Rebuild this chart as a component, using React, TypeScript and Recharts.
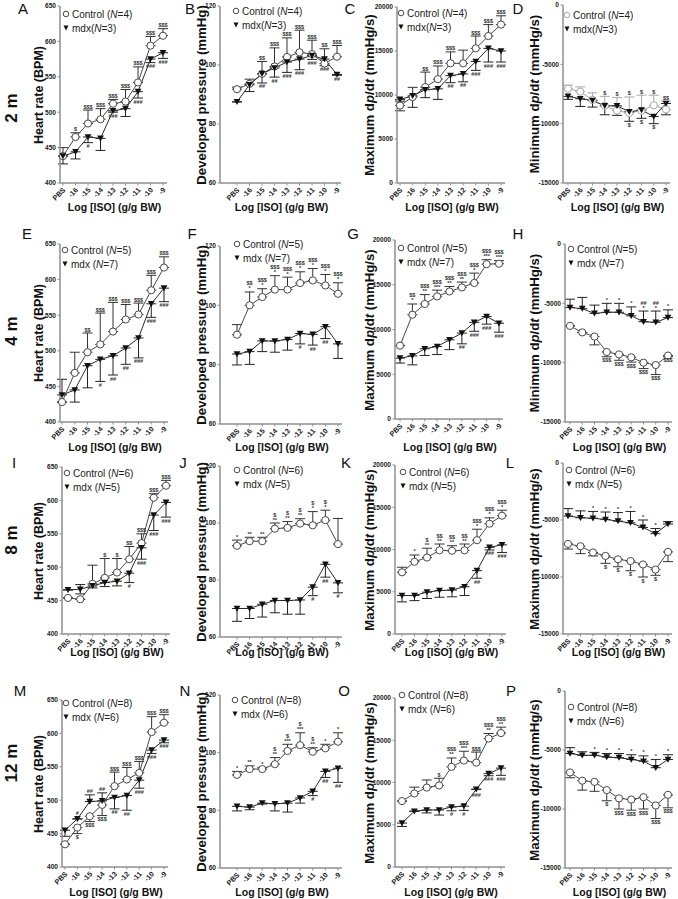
import React from 'react';
import { LineChart, Line, XAxis, YAxis, ErrorBar, LabelList } from 'recharts';

const DOSES = ['PBS', '-16', '-15', '-14', '-13', '-12', '-11', '-10', '-9'];

// ---- 2 months ----
const A_CTRL = [438, 465, 484, 490, 512, 515, 542, 594, 608];
const A_CTRL_SEM = [12, 6, 19, 15, 6, 17, 22, 13, 10];
const A_MDX = [438, 444, 465, 463, 502, 505, 529, 575, 584];
const A_MDX_SEM = [11, 10, 8, 17, 2, 11, 9, 5, 8];
const A_CTRL_SIG = ['', '$', '$$$', '$$$', '$$$', '$$$', '$$$', '$$$', '$$$'];
const A_MDX_SIG = ['', '', '#', '', '###', '', '###', '###', '###'];

const B_CTRL = [91.8, 93.6, 97, 99.5, 102.7, 104.3, 103.7, 100.5, 102.8];
const B_CTRL_SEM = [0.7, 1.6, 4.2, 6.3, 6.5, 7.5, 4.7, 5, 3.8];
const B_MDX = [87.5, 93.3, 97, 99, 101, 102, 103.2, 102, 96.8];
const B_MDX_SEM = [0, 2.3, 3.1, 3.1, 3.5, 3.6, 1.3, 2.2, 0.3];
const B_CTRL_SIG = ['', '', '$$', '$$$', '$$$', '$$$', '$$$', '$$', '$$$'];
const B_MDX_SIG = ['', '', '##', '##', '###', '###', '###', '###', '##'];

const C_CTRL = [8800, 9770, 10900, 11800, 13600, 13600, 15300, 16700, 18000];
const C_CTRL_SEM = [0, 1100, 1700, 1500, 1300, 1500, 1400, 1300, 1000];
const C_CTRL_SEM_LOW = [600, 0, 0, 0, 0, 0, 0, 0, 0];
const C_MDX = [9500, 9900, 10600, 10700, 12200, 12400, 13800, 15300, 15000];
const C_MDX_SEM = [200, 1300, 900, 1200, 800, 900, 1000, 1550, 1250];
const C_CTRL_SIG = ['', '', '$$', '$$$', '$$$', '', '$$$', '$$$', '$$$'];
const C_MDX_SIG = ['', '', '', '', '##', '##', '###', '###', '###'];

const D_CTRL = [-7050, -7300, -8000, -8500, -8900, -9100, -8900, -8450, -8800];
const D_CTRL_SEM = [300, 400, 600, 800, 1100, 1350, 1300, 850, 700];
const D_MDX = [-7700, -7900, -8050, -8500, -8500, -9000, -8850, -9400, -8300];
const D_MDX_SEM = [250, 650, 550, 750, 800, 800, 700, 600, 950];
const D_CTRL_SIG = ['', '', '', '$', '$', '$', '$', '$', '$$'];
const D_MDX_SIG = ['', '', '', '', '', '$', '$', '$', ''];

// ---- 4 months ----
const E_CTRL = [428, 469, 498, 509, 527, 544, 551, 585, 617];
const E_CTRL_SEM = [0, 29, 27, 44, 41, 21, 16, 21, 15];
const E_MDX = [438, 445, 479, 488, 493, 504, 518, 566, 588];
const E_MDX_SEM_UP = [22, 0, 0, 0, 0, 0, 0, 0, 0];
const E_MDX_SEM = [0, 17, 31, 31, 27, 23, 28, 19, 19];
const E_CTRL_SIG = ['', '', '$$', '$$$', '$$$', '$$$', '$$$', '$$$', '$$$'];
const E_MDX_SIG = ['', '', '', '#', '##', '##', '###', '###', '###'];

const F_CTRL = [90.1, 100, 102.8, 105.3, 105.3, 107.5, 108.4, 106.7, 103.9];
const F_CTRL_SEM = [3.4, 4.5, 2.8, 4.7, 4.2, 3.8, 4, 3.7, 3.7];
const F_MDX = [83.6, 84.4, 88, 88, 88.5, 90.5, 90.2, 92.8, 87];
const F_MDX_SEM = [3.7, 4.3, 3.6, 3.8, 3.6, 3.5, 3.6, 4, 4.9];
const F_CTRL_SIG = ['', '$$\n*', '$$$\n*', '$$$\n*', '$$$\n*', '$$$\n*', '$$$\n*', '$$$\n*', '$$$\n*'];
const F_MDX_SIG = ['', '', '', '', '', '#', '##', '##', ''];

const G_CTRL = [8200, 11650, 12850, 13700, 14250, 14700, 15200, 17300, 17350];
const G_CTRL_SEM = [0, 1200, 1050, 700, 550, 600, 1100, 500, 350];
const G_MDX = [6800, 7050, 7850, 8100, 8850, 9600, 10800, 11450, 10700];
const G_MDX_SEM = [550, 1000, 750, 900, 1100, 1200, 1000, 850, 1000];
const G_CTRL_SIG = ['', '$$\n*', '$$$\n**', '$$$\n***', '$$$\n**', '$$$\n**', '$$$\n*', '$$$\n***', '$$$\n***'];
const G_MDX_SIG = ['', '', '', '', '', '##', '###', '###', '###'];

const H_CTRL = [-6900, -7450, -7800, -9100, -9300, -9550, -10000, -10200, -9400];
const H_CTRL_SEM = [0, 0, 700, 400, 500, 400, 500, 800, 100];
const H_MDX = [-5350, -5450, -5850, -5750, -5750, -6050, -6550, -6600, -6200];
const H_MDX_SEM = [700, 950, 700, 750, 750, 750, 900, 950, 650];
const H_CTRL_SIG = ['', '', '', '$$$', '$$$', '$$$', '$$$', '$$$', '$$$'];
const H_MDX_SIG = ['', '', '', '*', '*', '*', '##\n*', '##\n*', '*'];

// ---- 8 months ----
const I_CTRL = [454, 452, 475, 484, 492, 512, 536, 604, 622];
const I_CTRL_SEM = [0, 0, 28, 29, 21, 19, 14, 6, 8];
const I_MDX = [466, 467, 472, 477, 479, 491, 529, 578, 597];
const I_MDX_SEM_UP = [0, 7, 0, 0, 0, 0, 0, 0, 0];
const I_MDX_SEM = [0, 7, 3, 6, 7, 14, 17, 23, 22];
const I_CTRL_SIG = ['', '', '', '$', '$', '$$', '$$$', '$$$', '$$$'];
const I_MDX_SIG = ['', '', '', '', '', '#', '###', '###', '###'];

const J_CTRL = [92, 93.6, 93.6, 98, 98.3, 99.8, 99.2, 101, 92.6];
const J_CTRL_SEM = [2, 1.4, 1.4, 2, 2.2, 1.7, 4.8, 3.5, 9];
const J_MDX = [70, 70, 71.5, 72.8, 72.8, 73, 77.5, 85.5, 79];
const J_MDX_SEM = [4.5, 3.5, 4.5, 4.3, 4.8, 5, 3, 4.5, 3.5];
const J_CTRL_SIG = ['*', '**', '**', '$\n**', '$\n**', '$\n**', '$\n*', '$\n*', ''];
const J_MDX_SIG = ['', '', '', '', '', '', '#', '##', '#'];

const K_CTRL = [7300, 8550, 9050, 9900, 9850, 9900, 11100, 13050, 14000];
const K_CTRL_SEM = [600, 800, 1100, 750, 600, 750, 1300, 700, 650];
const K_MDX = [4550, 4550, 4950, 5150, 5200, 5600, 7500, 10250, 10550];
const K_MDX_SEM = [750, 600, 750, 800, 800, 1050, 900, 300, 900];
const K_CTRL_SIG = ['', '*', '$\n**', '$$\n**', '$$\n**', '$$\n**', '$$$\n*', '$$$\n*', '$$$\n*'];
const K_MDX_SIG = ['', '', '', '', '', '', '##', '###', '###'];

const L_CTRL = [-7100, -7300, -7850, -8150, -8450, -8600, -8900, -9350, -7800];
const L_CTRL_SEM = [450, 650, 300, 650, 650, 850, 1100, 500, 850];
const L_MDX = [-4650, -4800, -4850, -4950, -5100, -5250, -5650, -6200, -5350];
const L_MDX_SEM = [650, 600, 600, 650, 750, 1000, 650, 450, 200];
const L_CTRL_SIG = ['', '', '', '$', '$', '$', '$', '$', ''];
const L_MDX_SIG = ['', '', '*', '*', '*', '*', '*', '*', ''];

// ---- 12 months ----
const M_CTRL = [434, 459, 476, 493, 521, 531, 541, 602, 616];
const M_CTRL_SEM = [0, 0, 0, 0, 21, 18, 17, 23, 12];
const M_CTRL_SEM_LOW = [0, 9, 8, 16, 0, 0, 0, 0, 0];
const M_MDX = [455, 472, 498, 499, 504, 507, 530, 575, 590];
const M_MDX_SEM_UP = [0, 0, 10, 12, 0, 0, 0, 0, 0];
const M_MDX_SEM = [9, 0, 0, 0, 17, 22, 12, 5, 4];
const M_CTRL_SIG = ['', '', '', '', '$$$', '$$$', '$$$', '$$$', '$$$'];
const M_CTRL_SIG_LOW = ['', '$', '$$$', '$$$', '', '', '', '', ''];
const M_MDX_SIG_UP = ['', '#', '##', '##', '', '', '', '', ''];
const M_MDX_SIG = ['', '', '', '', '##', '##', '###', '###', '###'];

const N_CTRL = [92.3, 94.3, 94.3, 96, 100.6, 102.6, 100.3, 101.5, 103.8];
const N_CTRL_SEM = [1.2, 1.1, 0.6, 2.3, 2.3, 4.3, 1.4, 1.4, 3.1];
const N_MDX = [81.4, 81.1, 82.5, 82.3, 82.5, 84.3, 86.6, 93.5, 94.6];
const N_MDX_SEM = [1.6, 0.9, 0.3, 2.5, 3.1, 1.8, 1.5, 2.1, 4.9];
const N_CTRL_SIG = ['*', '**', '*', '$\n**', '$\n***', '$\n***', '$\n**', '*', '*'];
const N_MDX_SIG = ['', '', '', '', '', '', '#', '##', '##'];

const O_CTRL = [7800, 8700, 9400, 9650, 11850, 12600, 12350, 15200, 15850];
const O_CTRL_SEM = [0, 750, 900, 850, 1050, 1100, 1250, 600, 700];
const O_MDX = [5200, 6600, 6750, 6750, 7100, 7200, 9200, 11050, 11700];
const O_MDX_SEM = [400, 0, 350, 600, 450, 500, 0, 250, 850];
const O_CTRL_SIG = ['', '', '', '$', '$$$\n**', '$$$\n***', '$$$', '$$$\n**', '$$$\n**'];
const O_MDX_SIG = ['', '', '', '', '#', '#', '###', '###', '###'];

const P_CTRL = [-6900, -7600, -7700, -8400, -9100, -9200, -9000, -9700, -8800];
const P_CTRL_SEM = [450, 800, 800, 900, 900, 900, 1000, 1100, 1100];
const P_MDX = [-5300, -5450, -5450, -5600, -5650, -5800, -5950, -6500, -5800];
const P_MDX_SEM = [500, 300, 250, 300, 350, 400, 450, 700, 400];
const P_CTRL_SIG = ['', '', '', '$', '$$$', '$$$', '$$$', '$$$', '$$$'];
const P_MDX_SIG = ['', '', '*', '*', '*', '*', '*', '*', '*'];

const ROW_LABELS = ['2 m', '4 m', '8 m', '12 m'];
const GROUP_N_CONTROL = [4, 5, 6, 8];
const GROUP_N_MDX = [3, 7, 5, 6];

type Kind = 'hr' | 'dp' | 'max' | 'min' | 'maxneg';
type Panel = {
  id: string; kind: Kind; row: number; col: number; grey?: boolean;
  c: number[]; cUp?: number[]; cDown?: number[];
  m: number[]; mUp?: number[]; mDown?: number[];
  cAbove?: string[]; cBelow?: string[]; mAbove?: string[]; mBelow?: string[];
};

const PANELS: Panel[] = [
  { id: 'A', kind: 'hr', row: 0, col: 0, c: A_CTRL, cUp: A_CTRL_SEM, m: A_MDX, mDown: A_MDX_SEM, cAbove: A_CTRL_SIG, mBelow: A_MDX_SIG },
  { id: 'B', kind: 'dp', row: 0, col: 1, c: B_CTRL, cUp: B_CTRL_SEM, m: B_MDX, mDown: B_MDX_SEM, cAbove: B_CTRL_SIG, mBelow: B_MDX_SIG },
  { id: 'C', kind: 'max', row: 0, col: 2, c: C_CTRL, cUp: C_CTRL_SEM, cDown: C_CTRL_SEM_LOW, m: C_MDX, mDown: C_MDX_SEM, cAbove: C_CTRL_SIG, mBelow: C_MDX_SIG },
  { id: 'D', kind: 'min', row: 0, col: 3, grey: true, c: D_CTRL, cUp: D_CTRL_SEM, m: D_MDX, mDown: D_MDX_SEM, cAbove: D_CTRL_SIG, mBelow: D_MDX_SIG },
  { id: 'E', kind: 'hr', row: 1, col: 0, c: E_CTRL, cUp: E_CTRL_SEM, m: E_MDX, mUp: E_MDX_SEM_UP, mDown: E_MDX_SEM, cAbove: E_CTRL_SIG, mBelow: E_MDX_SIG },
  { id: 'F', kind: 'dp', row: 1, col: 1, c: F_CTRL, cUp: F_CTRL_SEM, m: F_MDX, mDown: F_MDX_SEM, cAbove: F_CTRL_SIG, mBelow: F_MDX_SIG },
  { id: 'G', kind: 'max', row: 1, col: 2, c: G_CTRL, cUp: G_CTRL_SEM, m: G_MDX, mDown: G_MDX_SEM, cAbove: G_CTRL_SIG, mBelow: G_MDX_SIG },
  { id: 'H', kind: 'min', row: 1, col: 3, c: H_CTRL, cDown: H_CTRL_SEM, m: H_MDX, mUp: H_MDX_SEM, cBelow: H_CTRL_SIG, mAbove: H_MDX_SIG },
  { id: 'I', kind: 'hr', row: 2, col: 0, c: I_CTRL, cUp: I_CTRL_SEM, m: I_MDX, mUp: I_MDX_SEM_UP, mDown: I_MDX_SEM, cAbove: I_CTRL_SIG, mBelow: I_MDX_SIG },
  { id: 'J', kind: 'dp', row: 2, col: 1, c: J_CTRL, cUp: J_CTRL_SEM, m: J_MDX, mDown: J_MDX_SEM, cAbove: J_CTRL_SIG, mBelow: J_MDX_SIG },
  { id: 'K', kind: 'max', row: 2, col: 2, c: K_CTRL, cUp: K_CTRL_SEM, m: K_MDX, mDown: K_MDX_SEM, cAbove: K_CTRL_SIG, mBelow: K_MDX_SIG },
  { id: 'L', kind: 'maxneg', row: 2, col: 3, c: L_CTRL, cDown: L_CTRL_SEM, m: L_MDX, mUp: L_MDX_SEM, cBelow: L_CTRL_SIG, mAbove: L_MDX_SIG },
  { id: 'M', kind: 'hr', row: 3, col: 0, c: M_CTRL, cUp: M_CTRL_SEM, cDown: M_CTRL_SEM_LOW, m: M_MDX, mUp: M_MDX_SEM_UP, mDown: M_MDX_SEM, cAbove: M_CTRL_SIG, cBelow: M_CTRL_SIG_LOW, mAbove: M_MDX_SIG_UP, mBelow: M_MDX_SIG },
  { id: 'N', kind: 'dp', row: 3, col: 1, c: N_CTRL, cUp: N_CTRL_SEM, m: N_MDX, mDown: N_MDX_SEM, cAbove: N_CTRL_SIG, mBelow: N_MDX_SIG },
  { id: 'O', kind: 'max', row: 3, col: 2, c: O_CTRL, cUp: O_CTRL_SEM, m: O_MDX, mDown: O_MDX_SEM, cAbove: O_CTRL_SIG, mBelow: O_MDX_SIG },
  { id: 'P', kind: 'maxneg', row: 3, col: 3, c: P_CTRL, cDown: P_CTRL_SEM, m: P_MDX, mUp: P_MDX_SEM, cBelow: P_CTRL_SIG, mAbove: P_MDX_SIG },
];

// plot geometry in page pixels: y axis x, first/last dose x, plot top/bottom, legend anchor, letter anchor
const GEOM: Record<string, number[]> = {
  A: [60, 63, 163, 6, 183, 66, 14, 23, 8],
  B: [220, 237, 337, 6, 183, 236, 11, 190, 8],
  C: [397, 400, 501, 7, 183, 401, 13, 350, 8],
  D: [563, 568, 666, 5, 183, 567, 15, 518, 8],
  E: [60, 62, 164, 244, 422, 65, 250, 27, 233],
  F: [220, 237, 338, 246, 424, 237, 244, 192, 233],
  G: [395, 400, 499, 240, 419, 401, 248, 353, 233],
  H: [565, 570, 668, 244, 422, 571, 249, 518, 233],
  I: [62, 68, 166, 467, 634, 67, 473, 14, 462],
  J: [220, 237, 338, 466, 637, 237, 470, 183, 462],
  K: [395, 402, 502, 465, 634, 403, 472, 346, 462],
  L: [563, 568, 668, 463, 634, 569, 470, 510, 462],
  M: [62, 65, 164, 700, 867, 66, 703, 20, 690],
  N: [220, 237, 338, 695, 868, 235, 700, 185, 690],
  O: [395, 402, 501, 698, 867, 402, 695, 344, 690],
  P: [565, 570, 668, 691, 868, 571, 707, 511, 690],
};
const YLABEL_X = [39, 201, 369, 534];
const XLABEL_Y = [207, 447, 652, 892];
const ROWLABEL_Y = [108, 331, 540, 763];

const AXES: Record<Kind, { domain: [number, number]; ticks: number[] }> = {
  hr: { domain: [400, 650], ticks: [400, 450, 500, 550, 600, 650] },
  dp: { domain: [60, 120], ticks: [60, 80, 100, 120] },
  max: { domain: [0, 20000], ticks: [0, 5000, 10000, 15000, 20000] },
  min: { domain: [-15000, 0], ticks: [-15000, -10000, -5000, 0] },
  maxneg: { domain: [-15000, 0], ticks: [-15000, -10000, -5000, 0] },
};

const FONT = '"Liberation Sans", Arial, Helvetica, sans-serif';
const AXIS_GREY = '#8f8f8f';

const yLabelText = (kind: Kind) => {
  if (kind === 'hr') return <>Heart rate (BPM)</>;
  if (kind === 'dp') return <>Developed pressure (mmHg)</>;
  const word = kind === 'min' ? 'Minimum' : 'Maximum';
  return <>{word} d<i>p</i>/d<i>t</i> (mmHg/s)</>;
};

const DoseTick = (props: any) => {
  const { x, y, payload } = props;
  return (
    <text x={x + 3} y={y + 4} transform={`rotate(-45 ${x + 3} ${y + 4})`} textAnchor="end"
      fontSize={7.2} fontWeight="bold" fill="#222" fontFamily={FONT}>{payload.value}</text>
  );
};

const ValueTick = (props: any) => {
  const { x, y, payload } = props;
  return (
    <text x={x} y={y} dy={2.3} textAnchor="end" fontSize={6.6} fontWeight="bold" fill="#222" fontFamily={FONT}>
      {payload.value}
    </text>
  );
};

const makeSig = (above: boolean, err: number[] | undefined, markerGap: number) => (props: any) => {
  const value = props.value;
  if (!value) return null;
  const x = props.viewBox?.x ?? props.x;
  const y = props.viewBox?.y ?? props.y;
  const gap = err && err[props.index] > 0 ? 1.5 : markerGap;
  const lines = String(value).split('\n');
  const lh = 5;
  const y0 = above ? y - gap - (lines.length - 1) * lh : y + gap + 4;
  return (
    <text x={x} y={y0} textAnchor="middle" fontSize={5.5} fontWeight="bold" fill="#333" fontFamily={FONT}>
      {lines.map((l, k) => (
        <tspan key={k} x={x} dy={k === 0 ? 0 : lh}>{l}</tspan>
      ))}
    </text>
  );
};

const circleDot = (color: string) => (props: any) => {
  const { cx, cy, index } = props;
  if (cx == null || cy == null) return <g key={index} />;
  return <circle key={index} cx={cx} cy={cy} r={3.6} fill="#fff" stroke={color} strokeWidth={1} />;
};

const triDot = (props: any) => {
  const { cx, cy, index } = props;
  if (cx == null || cy == null) return <g key={index} />;
  return <path key={index} d={`M${cx - 3.4},${cy - 2.8} L${cx + 3.4},${cy - 2.8} L${cx},${cy + 3.2} Z`} fill="#111" />;
};

const PanelChart = ({ p }: { p: Panel }) => {
  const [axisX, first, last, top, bottom] = GEOM[p.id];
  const right = last + 4;
  const mL = 59, yW = 1, mT = 10, mR = 6, mB = 4, xH = 30;
  const width = right - axisX + mL + yW + mR;
  const height = bottom - top + mT + xH + mB;
  const ax = AXES[p.kind];
  const cCol = p.grey ? '#a8a8a8' : '#4a4a4a';
  const zero = (a?: number[], i = 0) => (a ? a[i] : 0);
  const data = DOSES.map((x, i) => ({
    x,
    c: p.c[i],
    m: p.m[i],
    cErr: [zero(p.cDown, i), zero(p.cUp, i)],
    mErr: [zero(p.mDown, i), zero(p.mUp, i)],
    cTop: p.c[i] + zero(p.cUp, i),
    cBot: p.c[i] - zero(p.cDown, i),
    mTop: p.m[i] + zero(p.mUp, i),
    mBot: p.m[i] - zero(p.mDown, i),
    cA: p.cAbove ? p.cAbove[i] : '',
    cB: p.cBelow ? p.cBelow[i] : '',
    mA: p.mAbove ? p.mAbove[i] : '',
    mB: p.mBelow ? p.mBelow[i] : '',
  }));
  const sigLines: [string, string, boolean, number[] | undefined, number][] = [];
  if (p.cAbove) sigLines.push(['cTop', 'cA', true, p.cUp, 4.5]);
  if (p.cBelow) sigLines.push(['cBot', 'cB', false, p.cDown, 4.5]);
  if (p.mAbove) sigLines.push(['mTop', 'mA', true, p.mUp, 4]);
  if (p.mBelow) sigLines.push(['mBot', 'mB', false, p.mDown, 4]);
  return (
    <div style={{ position: 'absolute', left: axisX - mL - yW, top: top - mT }}>
      <LineChart width={width} height={height} data={data} margin={{ top: mT, right: mR, bottom: mB, left: mL }}>
        <XAxis dataKey="x" scale="point" interval={0} height={xH} padding={{ left: first - axisX, right: right - last }}
          axisLine={{ stroke: AXIS_GREY, strokeWidth: 1.5 }} tickLine={{ stroke: AXIS_GREY }} tickSize={2.5} tickMargin={1}
          tick={<DoseTick />} />
        <YAxis type="number" domain={ax.domain} ticks={ax.ticks} width={yW} allowDataOverflow interval={0}
          axisLine={{ stroke: AXIS_GREY, strokeWidth: 1.5 }} tickLine={{ stroke: AXIS_GREY }} tickSize={2.5} tickMargin={1.5}
          tick={<ValueTick />} />
        <Line type="linear" dataKey="c" stroke={cCol} strokeWidth={1} dot={circleDot(cCol)} activeDot={false} isAnimationActive={false}>
          <ErrorBar dataKey="cErr" direction="y" width={5} stroke={p.grey ? '#a8a8a8' : '#333'} strokeWidth={1} />
        </Line>
        <Line type="linear" dataKey="m" stroke="#2a2a2a" strokeWidth={1} dot={triDot} activeDot={false} isAnimationActive={false}>
          <ErrorBar dataKey="mErr" direction="y" width={5} stroke="#222" strokeWidth={1} />
        </Line>
        {sigLines.map(([pos, txt, above, err, gap]) => (
          <Line key={pos} type="linear" dataKey={pos} stroke="none" dot={false} activeDot={false} isAnimationActive={false} legendType="none">
            <LabelList dataKey={txt} content={makeSig(above, err, gap)} />
          </Line>
        ))}
      </LineChart>
    </div>
  );
};

const Legend = ({ p }: { p: Panel }) => {
  const g = GEOM[p.id];
  const lx = g[5], ly = g[6];
  const nC = GROUP_N_CONTROL[p.row], nM = GROUP_N_MDX[p.row];
  const cCol = p.grey ? '#a8a8a8' : '#4a4a4a';
  const row: React.CSSProperties = { display: 'flex', alignItems: 'center', height: 14, whiteSpace: 'nowrap' };
  return (
    <div style={{ position: 'absolute', left: lx - 4, top: ly - 7, fontSize: 10, color: '#222', fontFamily: FONT }}>
      <div style={row}>
        <svg width={8} height={8}><circle cx={4} cy={4} r={2.8} fill="#fff" stroke={cCol} strokeWidth={1} /></svg>
        <span style={{ marginLeft: 2 }}>Control (<i>N</i>={nC})</span>
      </div>
      <div style={row}>
        <svg width={8} height={8}><path d="M1.5,1.5 L6.5,1.5 L4,6.5 Z" fill="#111" /></svg>
        <span style={{ marginLeft: 2 }}>mdx{p.row === 0 ? '' : ' '}(<i>N</i>={nM})</span>
      </div>
    </div>
  );
};

const centered = (x: number, y: number, extra: React.CSSProperties = {}): React.CSSProperties => ({
  position: 'absolute', left: x, top: y, transform: 'translate(-50%, -50%)', whiteSpace: 'nowrap', ...extra,
});

export default function App() {
  return (
    <div style={{ position: 'absolute', left: 0, top: 0, width: 678, height: 899, background: '#fff', fontFamily: FONT, color: '#111' }}>
      {ROW_LABELS.map((t, r) => (
        <div key={t} style={centered(12, ROWLABEL_Y[r], { transform: 'translate(-50%, -50%) rotate(-90deg)', fontSize: 17, fontWeight: 'bold' })}>{t}</div>
      ))}
      {PANELS.map((p) => {
        const g = GEOM[p.id];
        const midY = (g[3] + g[4]) / 2;
        const midX = (g[0] + g[2] + 4) / 2 + 1;
        return (
          <React.Fragment key={p.id}>
            <PanelChart p={p} />
            <Legend p={p} />
            <div style={centered(g[7], g[8], { fontSize: 15 })}>{p.id}</div>
            <div style={centered(YLABEL_X[p.col], midY, { transform: 'translate(-50%, -50%) rotate(-90deg)', fontSize: p.kind === 'hr' ? 12.5 : 13.2, fontWeight: 'bold' })}>
              {yLabelText(p.kind)}
            </div>
            <div style={centered(midX, XLABEL_Y[p.row], { fontSize: 10.5, fontWeight: 'bold' })}>Log [ISO] (g/g BW)</div>
          </React.Fragment>
        );
      })}
    </div>
  );
}
